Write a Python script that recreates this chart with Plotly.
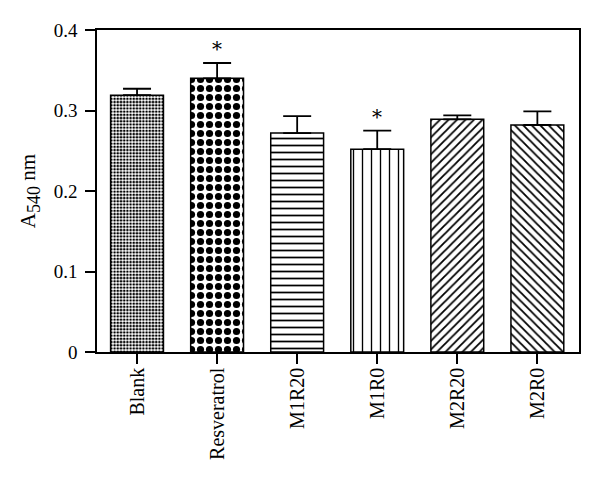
import plotly.graph_objects as go

# Data
groups = ["Blank", "Resveratrol", "M1R20", "M1R0", "M2R20", "M2R0"]
means = [0.319, 0.340, 0.272, 0.252, 0.289, 0.282]
errors = [0.008, 0.019, 0.021, 0.023, 0.005, 0.017]
significant = [False, True, False, True, False, False]

# Fill pattern per group (checkerboards approximated with dots)
shapes = [".", ".", "-", "|", "/", "\\"]
sizes = [3.2, 9, 7, 9, 6, 6]
solid = [0.5, 0.5, 0.25, 0.15, 0.3, 0.3]

serif = "Liberation Serif, Times New Roman, serif"

fig = go.Figure()
fig.add_trace(go.Bar(
    x=groups, y=means,
    width=0.66,
    marker=dict(
        color="white",
        line=dict(color="black", width=1.5),
        pattern=dict(shape=shapes, size=sizes, solidity=solid,
                     fgcolor="black", bgcolor="white", fgopacity=1,
                     fillmode="replace"),
    ),
    error_y=dict(type="data", symmetric=False, array=errors,
                 arrayminus=[0] * len(errors),
                 color="black", thickness=1.8, width=14),
    showlegend=False,
))

# Significance stars
for g, m, e, s in zip(groups, means, errors, significant):
    if s:
        fig.add_annotation(x=g, y=m + e, text="*", showarrow=False,
                           yanchor="bottom", yshift=0,
                           font=dict(family="DejaVu Serif", size=20, color="black"))

# page body has an 8px margin, so the figure is a bit smaller than the window
fig.update_layout(
    width=592, height=471,
    margin=dict(l=89, r=21, t=22, b=127),
    plot_bgcolor="white", paper_bgcolor="white",
    font=dict(family=serif, color="black"),
    bargap=0.34,
)
fig.update_xaxes(
    range=[-0.5, 5.52], showline=True, linecolor="black", linewidth=1.5,
    mirror=True, ticks="outside", ticklen=10, tickwidth=1.5, tickcolor="black",
    tickangle=-90, tickfont=dict(family=serif, size=20), showgrid=False,
    ticklabelstandoff=-4,
)
fig.update_yaxes(
    range=[0, 0.4], dtick=0.1, tickformat="~g",
    showline=True, linecolor="black", linewidth=1.5, mirror=True,
    ticks="outside", ticklen=10, tickwidth=1.5, tickcolor="black",
    tickfont=dict(family=serif, size=19), showgrid=False, zeroline=False,
    ticklabelstandoff=4,
    title=dict(text="A<sub><span style='font-size:18px'>540</span></sub> nm",
               font=dict(family=serif, size=21), standoff=12),
)

fig.write_html("out.html")
